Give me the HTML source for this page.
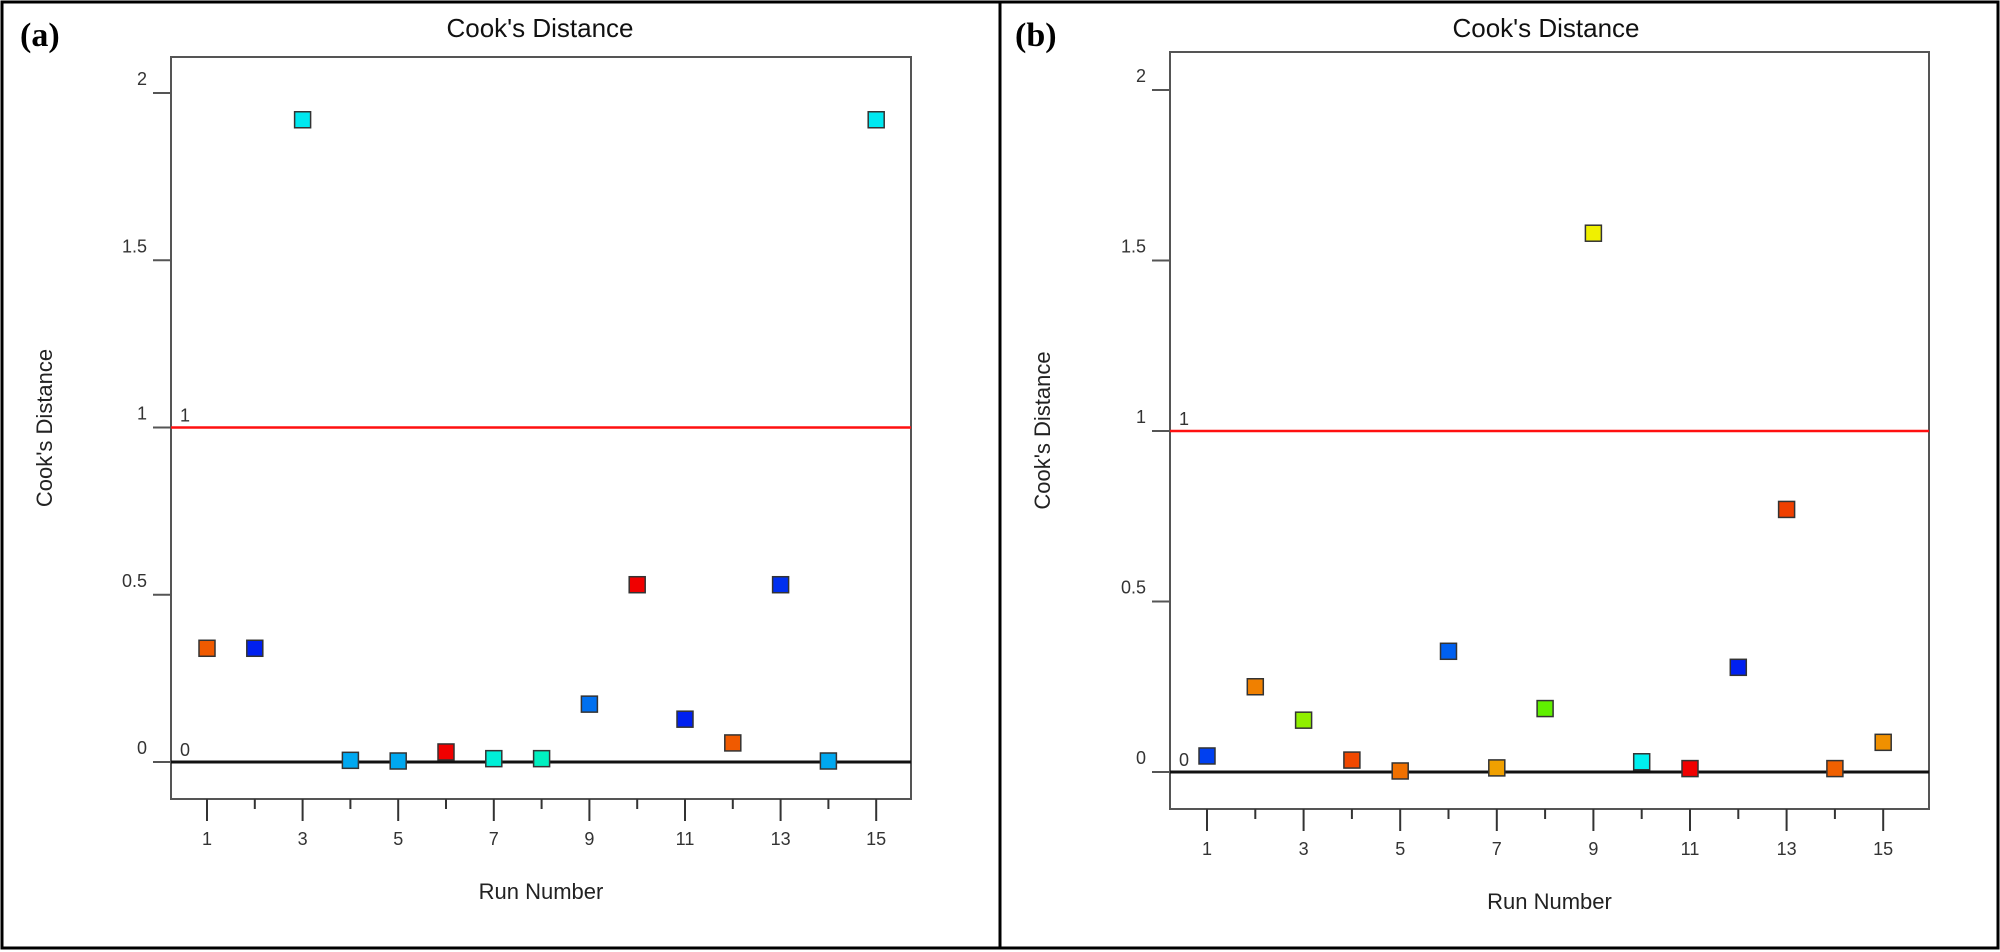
<!DOCTYPE html>
<html><head><meta charset="utf-8"><style>
html,body{margin:0;padding:0;background:#fff;}
svg{display:block;font-family:"Liberation Sans",sans-serif;}
</style></head><body>
<svg id="fig" width="2000" height="952" viewBox="0 0 2000 952">
<rect x="2" y="2" width="1996" height="946" fill="#fff" stroke="#000" stroke-width="3"/>
<line x1="1000" y1="2" x2="1000" y2="948" stroke="#000" stroke-width="3"/>
<text x="20" y="46" font-family="Liberation Serif,serif" font-weight="bold" font-size="34">(a)</text>
<text x="1015" y="46" font-family="Liberation Serif,serif" font-weight="bold" font-size="34">(b)</text>
</svg>
<script>
const runs = [1,2,3,4,5,6,7,8,9,10,11,12,13,14,15];
const valuesA = [0.34,0.34,1.92,0.005,0.003,0.03,0.01,0.01,0.173,0.53,0.128,0.057,0.53,0.003,1.92];
const colorsA = ["#f05a00","#0020f0","#00e8f0","#00a8f0","#00a8f0","#f00000","#00f0d8","#00f0c0","#0070f0","#f00000","#0020f0","#f05a00","#0030f0","#00a8f0","#00e8f0"];
const valuesB = [0.047,0.25,0.152,0.035,0.003,0.354,0.012,0.186,1.58,0.03,0.01,0.307,0.77,0.01,0.087];
const colorsB = ["#0040f0","#f08000","#90f000","#f04800","#f07000","#0060f0","#f0a000","#60f000","#f0f000","#00f0f0","#f00000","#0020f0","#f04000","#f06000","#f09000"];
const yTicks = [0,0.5,1,1.5,2];
const yTickLabels = ["0","0.5","1","1.5","2"];
const xTickLabels = ["1","3","5","7","9","11","13","15"];
const refLines = [0,1];

const NS="http://www.w3.org/2000/svg";
const svg=document.getElementById('fig');
function mk(tag,attrs,parent){const e=document.createElementNS(NS,tag);for(const k in attrs)e.setAttribute(k,attrs[k]);(parent||svg).appendChild(e);return e;}

function panel(id,cfg,values,colors){
  const g=mk('g',{});
  
  
  const xs=r=>cfg.x1+(r-1)*cfg.dx;
  const ys=v=>cfg.y0-v*cfg.ky;
  const t=mk('text',{x:cfg.tc,y:37,'text-anchor':'middle','font-size':26,fill:'#111'},g);
  t.textContent="Cook's Distance";
  
  
  const box=mk('path',{d:`M${cfg.L},${cfg.B} L${cfg.L},${cfg.T} L${cfg.R},${cfg.T} L${cfg.R},${cfg.B} Z`,fill:'none',stroke:'#555','stroke-width':2},g);
  
  
  yTicks.forEach((v,i)=>{
    const y=ys(v);
    const tk=mk('line',{x1:cfg.L-18,y1:y,x2:cfg.L,y2:y,stroke:'#555','stroke-width':2},g);
    
    
    const lb=mk('text',{x:cfg.L-24,y:y-8,'text-anchor':'end','font-size':18,fill:'#333'},g);
    lb.textContent=yTickLabels[i];
    
    
  });
  runs.forEach(r=>{
    const x=xs(r);const major=r%2===1;
    const tk=mk('line',{x1:x,y1:cfg.B,x2:x,y2:cfg.B+(major?22:10),stroke:'#333','stroke-width':2},g);
    
    
  });
  xTickLabels.forEach(s=>{
    const lb=mk('text',{x:xs(+s),y:cfg.B+46,'text-anchor':'middle','font-size':18,fill:'#333'},g);
    lb.textContent=s;
    
    
  });
  refLines.forEach(v=>{
    const y=ys(v);
    const ln=mk('line',{x1:cfg.L,y1:y,x2:cfg.R,y2:y,stroke:v===0?'#111':'#ff1010','stroke-width':v===0?3:2.5},g);
    
    
    const lb=mk('text',{x:cfg.L+9,y:y-6,'font-size':18,fill:'#333'},g);
    lb.textContent=String(v);
    
    
  });
  values.forEach((v,i)=>{
    const x=xs(runs[i]),y=ys(v);
    const m=mk('rect',{x:x-8,y:y-8,width:16,height:16,fill:colors[i],stroke:'#333','stroke-width':1.5},g);
    
    
  });
  const xt=mk('text',{x:(cfg.L+cfg.R)/2,y:cfg.B+100,'text-anchor':'middle','font-size':22,fill:'#222'},g);
  xt.textContent='Run Number';
  
  
  const yc=(cfg.T+cfg.B)/2;
  const yt=mk('text',{x:cfg.yl,y:yc,'text-anchor':'middle','font-size':22,fill:'#222',transform:`rotate(-90 ${cfg.yl} ${yc})`},g);
  yt.textContent="Cook's Distance";
  
  
}
panel('panel-a',{L:171,R:911,T:57,B:799,x1:207,dx:47.8,y0:762,ky:334.5,tc:540,yl:52},valuesA,colorsA);
panel('panel-b',{L:1170,R:1929,T:52,B:809,x1:1207,dx:48.3,y0:772,ky:341,tc:1546,yl:1050},valuesB,colorsB);
</script>
</body></html>
